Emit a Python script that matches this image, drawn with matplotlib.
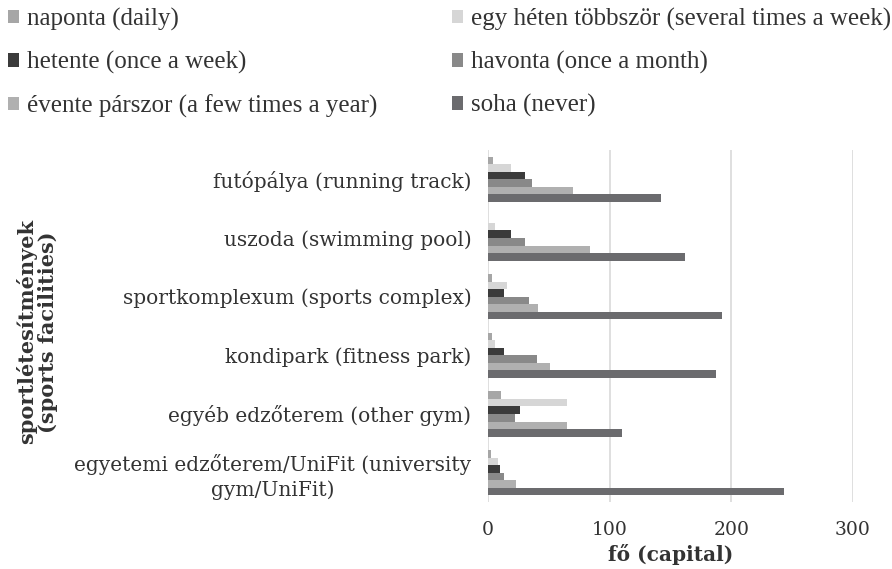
import matplotlib
matplotlib.use("Agg")
import matplotlib.pyplot as plt
import numpy as np

# categories (top to bottom)
facilities = [
    "futópálya (running track)",
    "uszoda (swimming pool)",
    "sportkomplexum (sports complex)",
    "kondipark (fitness park)",
    "egyéb edzőterem (other gym)",
    "egyetemi edzőterem/UniFit (university\ngym/UniFit)",
]

series_names = [
    "naponta (daily)",
    "egy héten többször (several times a week)",
    "hetente (once a week)",
    "havonta (once a month)",
    "évente párszor (a few times a year)",
    "soha (never)",
]

naponta = [4, 0, 3, 3, 11, 2.5]
egy_heten = [19, 6, 16, 6, 65, 8]
hetente = [30, 19, 13, 13, 26, 10]
havonta = [36, 30, 34, 40, 22, 13]
evente = [70, 84, 41, 51, 65, 23]
soha = [142, 162, 192, 187, 110, 243]

values = [naponta, egy_heten, hetente, havonta, evente, soha]
colors = ["#a6a6a6", "#d6d6d6", "#3b3b3b", "#898989", "#b0b0b0", "#6b6b6e"]

fig = plt.figure(figsize=(8.92, 5.69), dpi=100)
ax = fig.add_axes([488 / 892, 1 - 502 / 569, (853 - 488) / 892, (502 - 150) / 569])

n = len(facilities)
h = 0.128
pos = np.arange(n)
handles = []
for i, (vals, col) in enumerate(zip(values, colors)):
    y = pos + (i - 2.5) * h
    b = ax.barh(y, vals, height=h, color=col, zorder=3)
    handles.append(b)

ax.set_ylim(n - 0.5, -0.5)
ax.set_xlim(0, 300)
ax.set_xticks([0, 100, 200, 300])
ax.set_yticks(pos)
ax.set_yticklabels(facilities, fontsize=14.5, family="DejaVu Serif", color="#333333",
                   linespacing=1.3)
for lab in ax.get_yticklabels():
    lab.set_horizontalalignment("right")
    lab.set_multialignment("center")
for lab in ax.get_xticklabels():
    lab.set_family("DejaVu Serif")
    lab.set_fontsize(13.5)
    lab.set_color("#333333")
ax.tick_params(axis="both", length=0)
ax.tick_params(axis="x", pad=14)
ax.tick_params(axis="y", pad=12)
ax.grid(axis="x", color="#d9d9d9", linewidth=1.2, zorder=0)
for s in ax.spines.values():
    s.set_visible(False)

ax.set_xlabel("fő (capital)", fontsize=14.5, fontweight="bold", family="DejaVu Serif",
              color="#333333", labelpad=3)
fig.text(37 / 892, 1 - 332 / 569, "sportlétesítmények\n(sports facilities)", rotation=90,
         ha="center", va="center", fontsize=15, fontweight="bold", family="DejaVu Serif",
         color="#333333", linespacing=1.1)

leg_kw = dict(frameon=False, prop={"family": "Liberation Serif", "size": 18},
              handlelength=0.45, handleheight=0.45, handletextpad=0.3,
              labelspacing=0.8, borderaxespad=0, borderpad=0)
leg1 = fig.legend([handles[0], handles[2], handles[4]],
                  [series_names[0], series_names[2], series_names[4]],
                  loc="upper left", bbox_to_anchor=(8 / 892, 1 - 8 / 569), **leg_kw)
leg2 = fig.legend([handles[1], handles[3], handles[5]],
                  [series_names[1], series_names[3], series_names[5]],
                  loc="upper left", bbox_to_anchor=(452 / 892, 1 - 8 / 569), **leg_kw)
for leg in (leg1, leg2):
    for t in leg.get_texts():
        t.set_color("#333333")

fig.savefig("out.png", dpi=100)
